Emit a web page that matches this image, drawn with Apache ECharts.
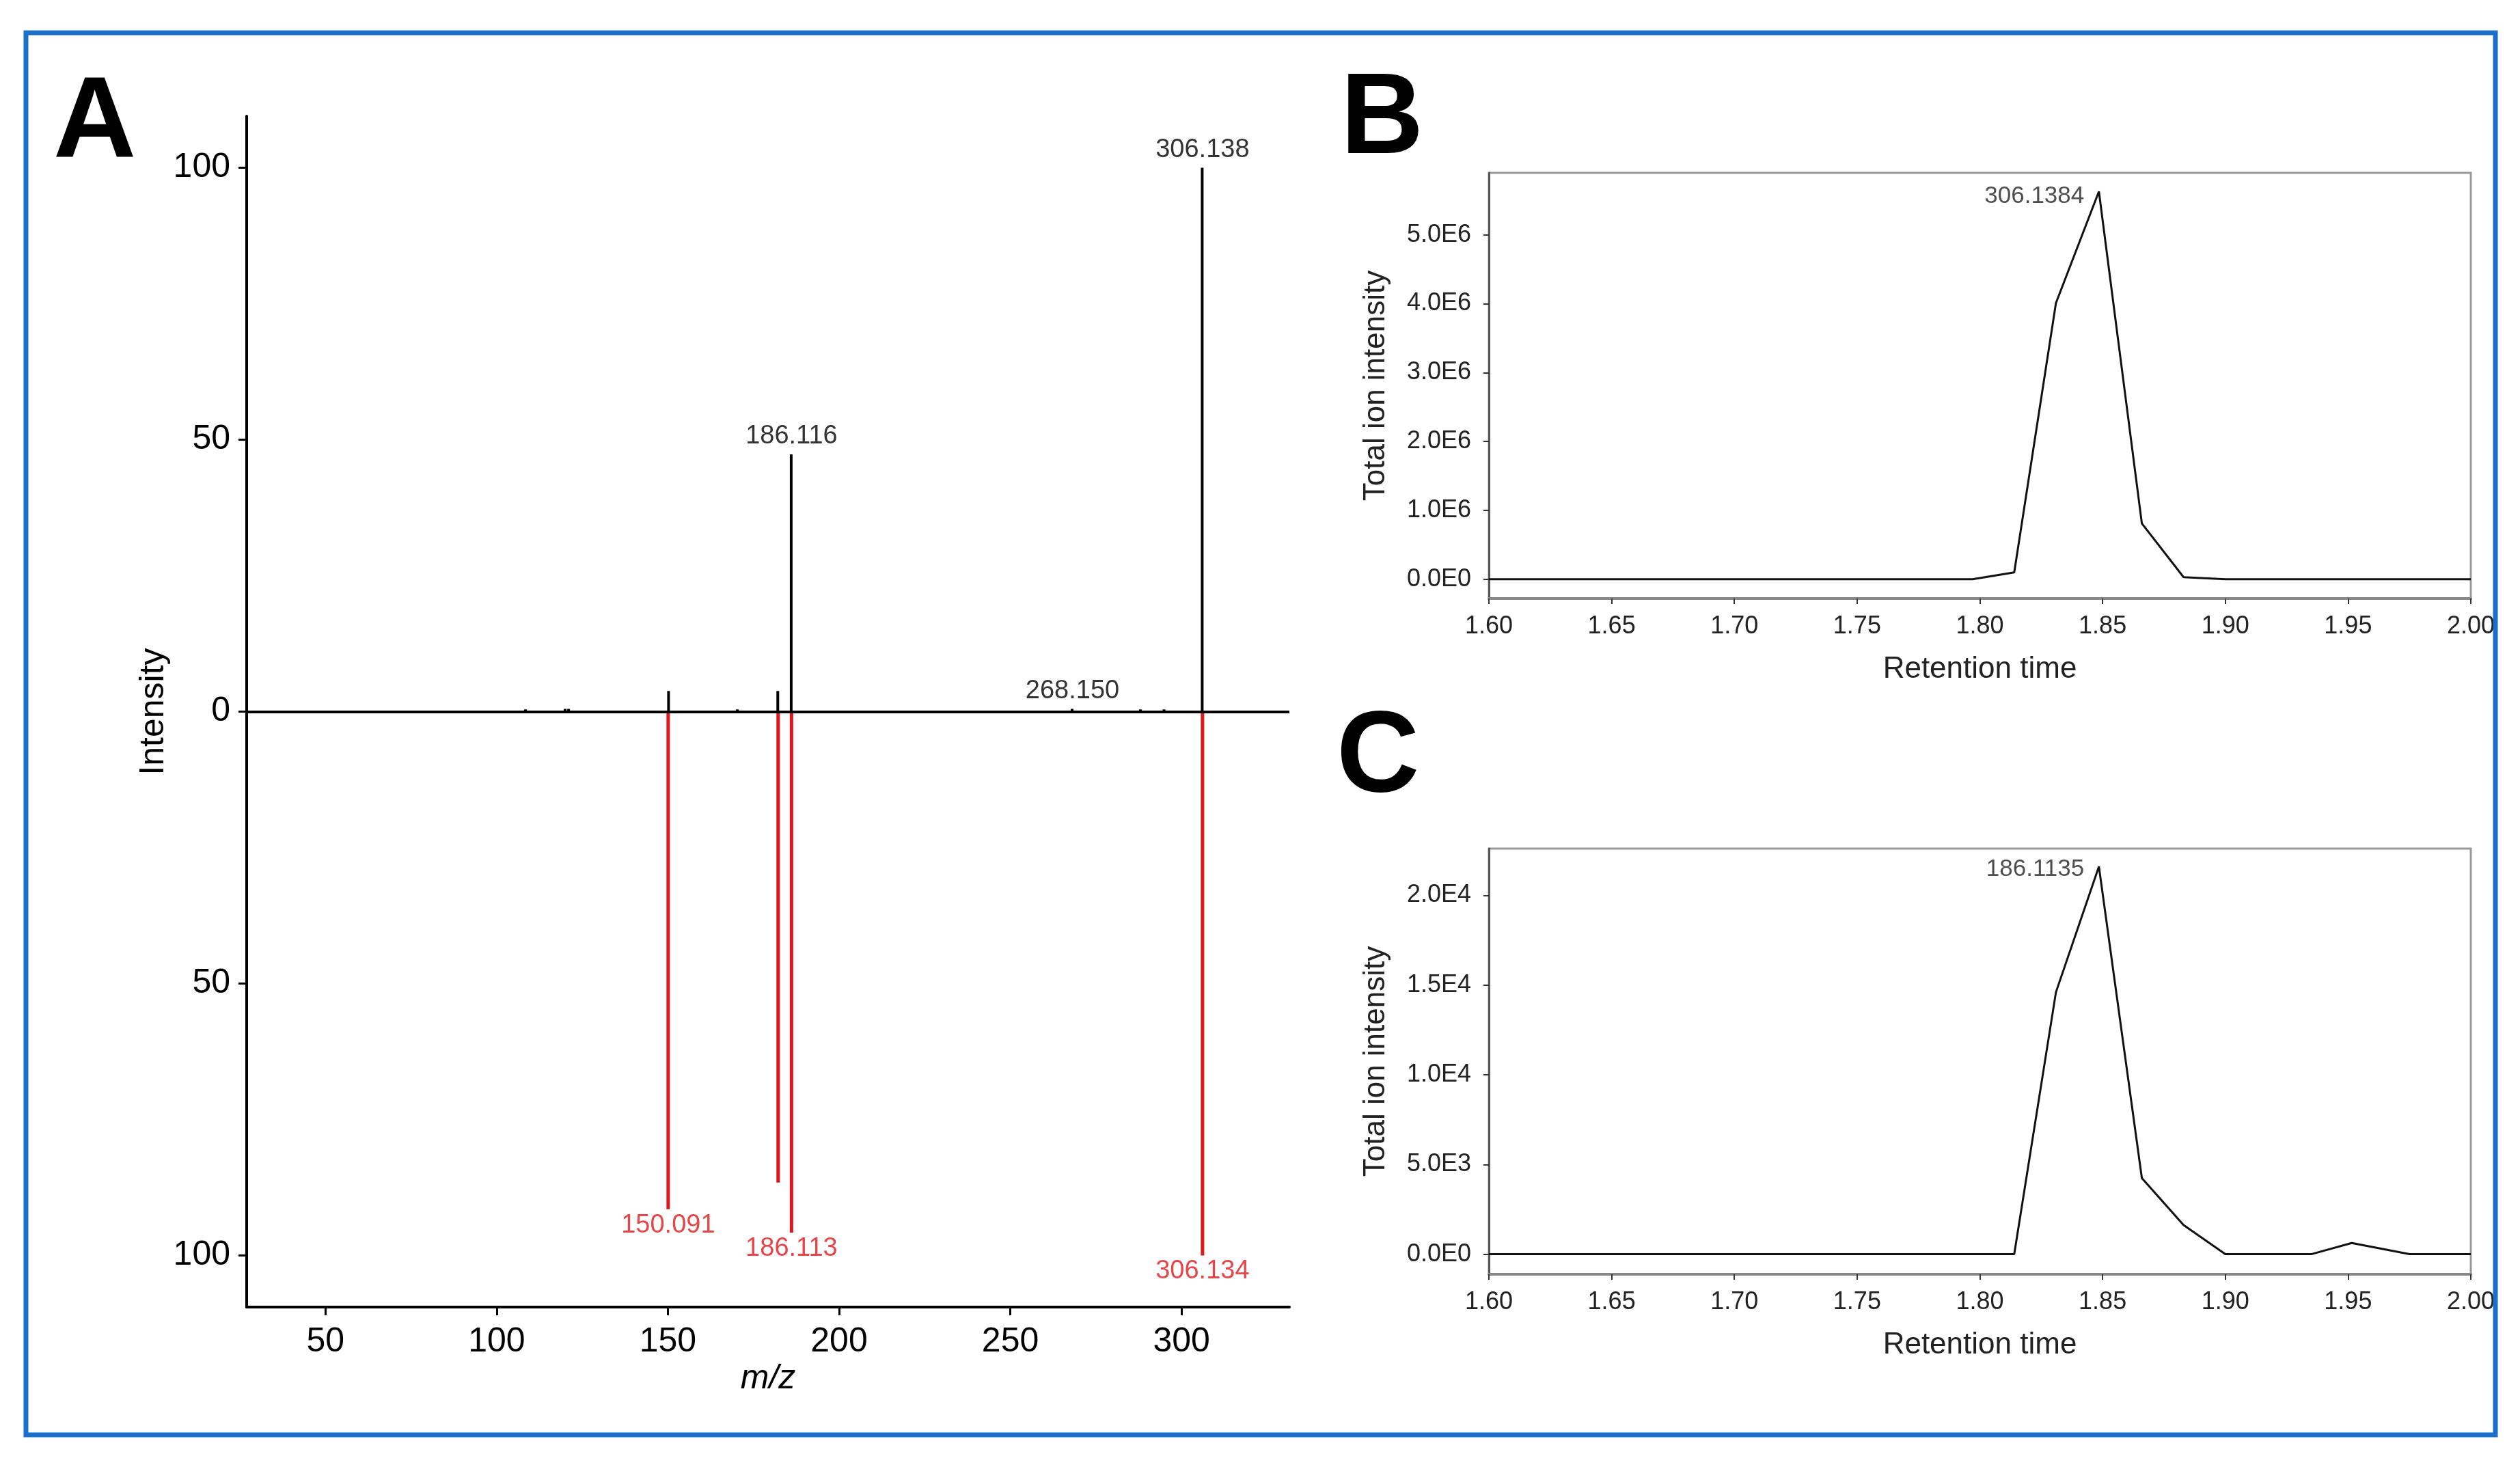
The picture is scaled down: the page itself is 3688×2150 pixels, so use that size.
<!DOCTYPE html>
<html>
<head>
<meta charset="utf-8">
<title>MS/MS spectrum and ion chromatograms</title>
<script src="https://cdn.jsdelivr.net/npm/echarts@6/dist/echarts.min.js"></script>
<style>
  html, body { margin: 0; padding: 0; background: #fff; }
  #chart { width: 3688px; height: 2150px; }
</style>
</head>
<body>
<div id="chart"></div>
<script>
// A: mirror spectrum, measured (black, up) vs reference (red, down)
const mzTop = [108.5, 120.1, 121.1, 150.3, 170.4, 182.2, 186.116, 268.15, 288.1, 295.0, 306.138];
const intTop = [0.4, 0.5, 0.5, 3.8, 0.4, 3.8, 47.3, 0.5, 0.4, 0.4, 100];
const topLabeled = [6, 7, 10];   // peaks that carry an m/z label
const mzBottom = [150.091, 182.2, 186.113, 306.134];
const intBottom = [-91.5, -86.6, -95.8, -100];
const bottomLabeled = [0, 2, 3];
const mzTicks = [50, 100, 150, 200, 250, 300];
const intTicks = [-100, -50, 0, 50, 100];

// B, C: extracted ion chromatograms
const rtB = [1.60, 1.797, 1.814, 1.831, 1.8485, 1.866, 1.883, 1.900, 2.00];
const ticB = [0, 0, 0.10e6, 4.01e6, 5.63e6, 0.81e6, 0.03e6, 0, 0];
const peakB = '306.1384';
const rtC = [1.60, 1.814, 1.831, 1.8485, 1.866, 1.883, 1.900, 1.935, 1.9515, 1.975, 2.00];
const ticC = [0, 0, 14600, 21600, 4240, 1620, 0, 0, 620, 0, 0];
const peakC = '186.1135';
const rtTicks = [1.60, 1.65, 1.70, 1.75, 1.80, 1.85, 1.90, 1.95, 2.00];
const ticksB = [0, 1e6, 2e6, 3e6, 4e6, 5e6];
const ticksC = [0, 5000, 10000, 15000, 20000];

const FONT = '"Liberation Sans", Arial, sans-serif';
const RED = '#e0161d';

function sci(v) {
    if (Math.abs(v) < 1e-9) return '0.0E0';
    const e = Math.floor(Math.log10(Math.abs(v)) + 1e-9);
    return (v / Math.pow(10, e)).toFixed(1) + 'E' + e;
}

const chart = echarts.init(document.getElementById('chart'));

// shared look of the two chromatogram panels
function rtAxis(grid) {
    return {
        gridIndex: grid, type: 'value', min: 1.6, max: 2.0,
        name: 'Retention time', nameLocation: 'middle', nameGap: 82, nameMoveOverlap: false,
        nameTextStyle: { fontSize: 44, color: '#222', fontFamily: FONT },
        axisLine: { onZero: false, lineStyle: { color: '#888', width: 4 } },
        axisTick: { customValues: rtTicks, length: 8, lineStyle: { color: '#333', width: 2 } },
        axisLabel: { customValues: rtTicks, margin: 23, fontSize: 36, color: '#222', fontFamily: FONT,
            formatter: v => v.toFixed(2) },
        splitLine: { show: false }
    };
}
function ticAxis(grid, min, max, ticks) {
    return {
        gridIndex: grid, type: 'value', min: min, max: max,
        name: 'Total ion intensity', nameLocation: 'middle', nameGap: 143, nameMoveOverlap: false,
        nameTextStyle: { fontSize: 44, color: '#222', fontFamily: FONT },
        axisLine: { show: true, onZero: false, lineStyle: { color: '#555', width: 3 } },
        axisTick: { show: true, customValues: ticks, length: 8, lineStyle: { color: '#333', width: 2 } },
        axisLabel: { customValues: ticks, margin: 26, fontSize: 36, color: '#222', fontFamily: FONT,
            formatter: sci },
        splitLine: { show: false }
    };
}
function peakLabel(grid, x, y, text, offY) {
    return {
        type: 'scatter', xAxisIndex: grid, yAxisIndex: grid,
        symbolSize: 1, itemStyle: { color: 'rgba(0,0,0,0)' },
        data: [[x, y]],
        label: { show: true, position: 'left', distance: 21, offset: [0, offY], formatter: text,
            fontSize: 35, color: '#222', fontFamily: FONT },
        z: 5
    };
}
function panelLetter(text, x, y) {
    return { type: 'text', x: x, y: y, style: { text: text, fontSize: 168, fontWeight: 'bold', fontFamily: FONT,
        fill: '#000', align: 'left', verticalAlign: 'middle' } };
}

const option = {
    animation: false,
    backgroundColor: '#fff',
    textStyle: { fontFamily: FONT },
    grid: [
        { left: 361, top: 170, width: 1526, height: 1743 },
        { left: 2179, top: 253, width: 1437, height: 623, show: true, borderColor: '#999', borderWidth: 3 },
        { left: 2179, top: 1242, width: 1437, height: 623, show: true, borderColor: '#999', borderWidth: 3 }
    ],
    xAxis: [
        {
            gridIndex: 0, type: 'value', min: 27, max: 331.5,
            name: 'm/z', nameLocation: 'middle', nameGap: 80, nameMoveOverlap: false,
            nameTextStyle: { fontSize: 50, fontStyle: 'italic', color: '#000', fontFamily: FONT },
            axisLine: { onZero: false, lineStyle: { color: '#000', width: 4 } },
            axisTick: { customValues: mzTicks, length: 12, lineStyle: { color: '#000', width: 3 } },
            axisLabel: { customValues: mzTicks, margin: 26, fontSize: 50, color: '#000', fontFamily: FONT },
            splitLine: { show: false }
        },
        rtAxis(1),
        rtAxis(2)
    ],
    yAxis: [
        {
            gridIndex: 0, type: 'value', min: -109.5, max: 109.5,
            name: 'Intensity', nameLocation: 'middle', nameGap: 111, nameMoveOverlap: false,
            nameTextStyle: { fontSize: 50, color: '#000', fontFamily: FONT },
            axisLine: { show: true, onZero: false, lineStyle: { color: '#000', width: 4 } },
            axisTick: { show: true, customValues: intTicks, length: 12, lineStyle: { color: '#000', width: 3 } },
            axisLabel: { customValues: intTicks, margin: 24, fontSize: 50, color: '#000', fontFamily: FONT,
                formatter: v => String(Math.abs(v)) },
            splitLine: { show: false }
        },
        ticAxis(1, -280000, 5900000, ticksB),
        ticAxis(2, -1120, 22600, ticksC)
    ],
    series: [
        {
            type: 'bar', xAxisIndex: 0, yAxisIndex: 0,
            data: mzTop.map((m, i) => [m, intTop[i]]),
            barWidth: 4, barGap: '-100%',
            itemStyle: { color: '#000' },
            markLine: {
                silent: true, symbol: ['none', 'none'], label: { show: false },
                lineStyle: { color: '#000', width: 4, type: 'solid' },
                data: [{ yAxis: 0 }]
            },
            z: 3
        },
        {
            type: 'bar', xAxisIndex: 0, yAxisIndex: 0,
            data: mzBottom.map((m, i) => [m, intBottom[i]]),
            barWidth: 5, barGap: '-100%',
            itemStyle: { color: RED },
            z: 2
        },
        {
            type: 'scatter', xAxisIndex: 0, yAxisIndex: 0,
            symbolSize: 1, itemStyle: { color: 'rgba(0,0,0,0)' },
            data: topLabeled.map(i => [mzTop[i], intTop[i]]),
            label: { show: true, position: 'top', distance: 7, fontSize: 38, color: '#000', fontFamily: FONT,
                formatter: p => p.value[0].toFixed(3) }
        },
        {
            type: 'scatter', xAxisIndex: 0, yAxisIndex: 0,
            symbolSize: 1, itemStyle: { color: 'rgba(0,0,0,0)' },
            data: bottomLabeled.map(i => [mzBottom[i], intBottom[i]]),
            label: { show: true, position: 'bottom', distance: 4, fontSize: 38, color: RED, fontFamily: FONT,
                formatter: p => p.value[0].toFixed(3) }
        },
        {
            type: 'line', xAxisIndex: 1, yAxisIndex: 1,
            data: rtB.map((t, i) => [t, ticB[i]]),
            symbol: 'none', lineStyle: { color: '#111', width: 3 }, z: 3
        },
        peakLabel(1, 1.8485, 5.63e6, peakB, 7),
        {
            type: 'line', xAxisIndex: 2, yAxisIndex: 2,
            data: rtC.map((t, i) => [t, ticC[i]]),
            symbol: 'none', lineStyle: { color: '#111', width: 3 }, z: 3
        },
        peakLabel(2, 1.8485, 21600, peakC, 4)
    ],
    graphic: [
        {
            type: 'rect', z: 100, silent: true,
            shape: { x: 38, y: 48, width: 3614, height: 2052 },
            style: { fill: 'none', stroke: '#1a6fc9', lineWidth: 7 }
        },
        panelLetter('A', 78, 184),
        panelLetter('B', 1962, 178),
        panelLetter('C', 1956, 1112)
    ]
};

chart.setOption(option);
</script>
</body>
</html>
